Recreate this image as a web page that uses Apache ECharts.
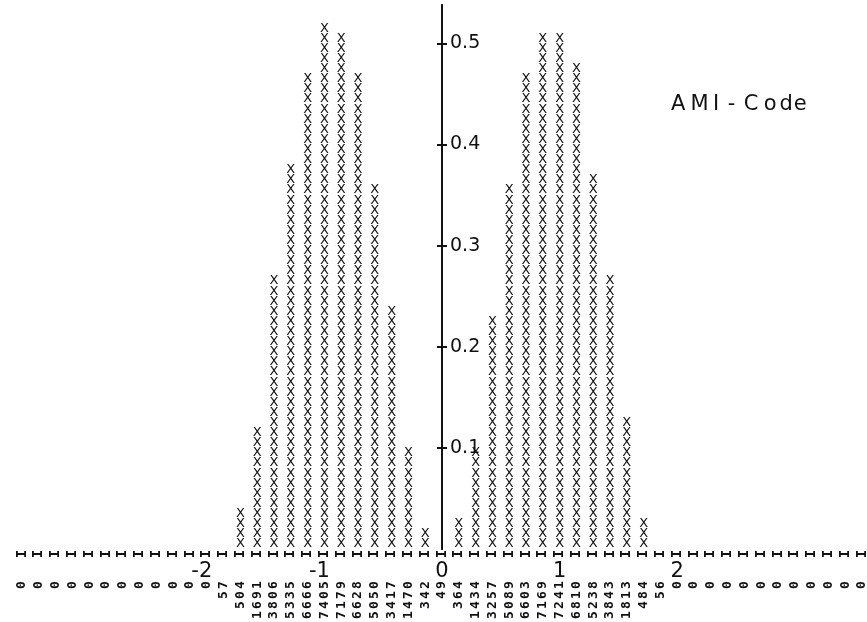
<!DOCTYPE html>
<html>
<head>
<meta charset="utf-8">
<script src="https://cdn.jsdelivr.net/npm/echarts@6/dist/echarts.min.js"></script>
<style>
  html, body { margin: 0; padding: 0; background: #ffffff; }
  #chart { width: 867px; height: 622px; }
</style>
</head>
<body>
<div id="chart"></div>
<script>
// Count per class (printed under each column), 51 classes of width 1/7
const counts = [0,0,0,0,0,0,0,0,0,0,0,0,
  57,504,1691,3806,5335,6666,7405,7179,6628,5050,3417,1470,342,
  49,
  364,1434,3257,5089,6603,7169,7241,6810,5238,3843,1813,484,56,
  0,0,0,0,0,0,0,0,0,0,0,0];
// Relative frequency density of each class (column height)
const density = [0,0,0,0,0,0,0,0,0,0,0,0,
  0.00403,0.03564,0.11957,0.26911,0.37722,0.47133,0.52359,0.50761,0.46865,0.35707,0.24161,0.10394,0.02418,
  0.00346,
  0.02574,0.10139,0.23030,0.35983,0.46688,0.50690,0.51199,0.48152,0.37036,0.27173,0.12819,0.03422,0.00396,
  0,0,0,0,0,0,0,0,0,0,0,0];
const xTicks = [-2, -1, 0, 1, 2];
const yTicks = [0.1, 0.2, 0.3, 0.4, 0.5];
const title = 'AMI-Code';

const INK = '#111111';
const chart = echarts.init(document.getElementById('chart'), null, { renderer: 'canvas' });

const GRID_LEFT = 13.6;
const GRID_WIDTH = 856.8;
const half = (counts.length / 2) / 7; // half-width of the value axis
const zeroFromLeft = GRID_WIDTH / 2;   // x = 0 sits in the middle of the grid

const tstyle = { fontSize: 21, fontFamily: 'DejaVu Sans', fontWeight: 'normal', color: INK, lineHeight: 24, align: 'center' };
function tok(w) { return Object.assign({ width: w }, tstyle); }

const option = {
  backgroundColor: '#ffffff',
  animation: false,
  title: {
    text: '{A|A}{M|M}{I|I}{h|-}{C|C}{o|o}{d|d}{e|e}',
    left: 662,
    top: 88,
    textStyle: {
      color: INK,
      fontWeight: 'normal',
      fontFamily: 'DejaVu Sans',
      fontSize: 21,
      rich: {
        A: tok(22.5), M: tok(20), I: tok(13), h: tok(18),
        C: tok(21), o: tok(17.5), d: tok(14.5), e: tok(13.5)
      }
    }
  },
  grid: {
    left: GRID_LEFT,
    width: GRID_WIDTH,
    top: 5,
    bottom: 73,
    containLabel: false,
    outerBoundsMode: 'none'
  },
  xAxis: [
    {
      type: 'value',
      min: -half,
      max: half,
      axisLine: { show: false },
      axisTick: { show: false },
      splitLine: { show: false },
      axisLabel: {
        customValues: xTicks,
        margin: 12,
        color: INK,
        fontFamily: 'DejaVu Sans',
        fontSize: 21,
        formatter: function (v) {
          return v < 0 ? '{n|' + v + '}' : '{p|' + v + '}';
        },
        rich: {
          n: { fontFamily: 'DejaVu Sans', fontSize: 21, color: INK, padding: [0, 10, 0, 0] },
          p: { fontFamily: 'DejaVu Sans', fontSize: 21, color: INK }
        }
      }
    },
    {
      // class counts printed under the columns
      type: 'category',
      data: counts.map(String),
      boundaryGap: true,
      position: 'bottom',
      axisLine: { show: false },
      axisTick: { show: false },
      splitLine: { show: false },
      axisLabel: {
        interval: 0,
        rotate: 90,
        margin: 31,
        color: INK,
        formatter: function (v) {
          return String(v).split('').map(function (c) { return '{d|' + c + '}'; }).join('');
        },
        rich: {
          d: { width: 10, align: 'center', fontFamily: 'DejaVu Sans Mono', fontWeight: 'bold', fontSize: 13, color: INK }
        }
      }
    },
    {
      // the printed "I" base mark of every column (rotated like the printout)
      type: 'category',
      data: counts.map(String),
      boundaryGap: true,
      position: 'bottom',
      axisLine: { show: false },
      axisTick: { show: false },
      splitLine: { show: false },
      axisLabel: {
        interval: 0,
        rotate: 90,
        margin: 0,
        color: INK,
        formatter: function () { return '{b|I}'; },
        rich: {
          b: { width: 10, align: 'center', fontFamily: 'DejaVu Sans Mono', fontWeight: 'bold', fontSize: 14, color: INK }
        }
      }
    }
  ],
  yAxis: [
    {
      type: 'value',
      position: 'left',
      offset: -zeroFromLeft,
      min: 0,
      max: 0.538,
      axisLine: { show: true, onZero: false, lineStyle: { color: INK, width: 2 } },
      axisTick: { show: true, customValues: yTicks, length: 5, lineStyle: { color: INK, width: 2 } },
      splitLine: { show: false },
      axisLabel: {
        inside: true,
        customValues: yTicks,
        margin: 8,
        color: INK,
        fontFamily: 'DejaVu Sans',
        fontSize: 19,
        formatter: function (v) { return v.toFixed(1); }
      }
    },
    {
      type: 'value',
      position: 'right',
      offset: -(GRID_WIDTH - zeroFromLeft),
      min: 0,
      max: 0.538,
      axisLine: { show: true, onZero: false, lineStyle: { color: INK, width: 2 } },
      axisTick: { show: true, customValues: yTicks, length: 5, lineStyle: { color: INK, width: 2 } },
      splitLine: { show: false },
      axisLabel: { show: false }
    }
  ],
  series: [
    {
      type: 'custom',
      xAxisIndex: 1,
      yAxisIndex: 0,
      clip: false,
      data: density.map(function (d, i) { return [i, d]; }),
      renderItem: function (params, api) {
        const i = api.value(0);
        const d = api.value(1);
        const base = api.coord([i, 0]);
        const cell = api.size([0, 0.01])[1];
        const n = Math.round(d / 0.01);
        const children = [];
        for (let k = 0; k < n; k++) {
          children.push({
            type: 'text',
            x: base[0],
            y: base[1] - (k + 0.5) * cell,
            style: {
              text: 'X',
              fontFamily: 'DejaVu Sans',
              fontWeight: 'normal',
              fontSize: 13,
              fill: INK,
              align: 'center',
              verticalAlign: 'middle'
            }
          });
        }
        return { type: 'group', children: children };
      }
    }
  ]
};

chart.setOption(option);
</script>
</body>
</html>
